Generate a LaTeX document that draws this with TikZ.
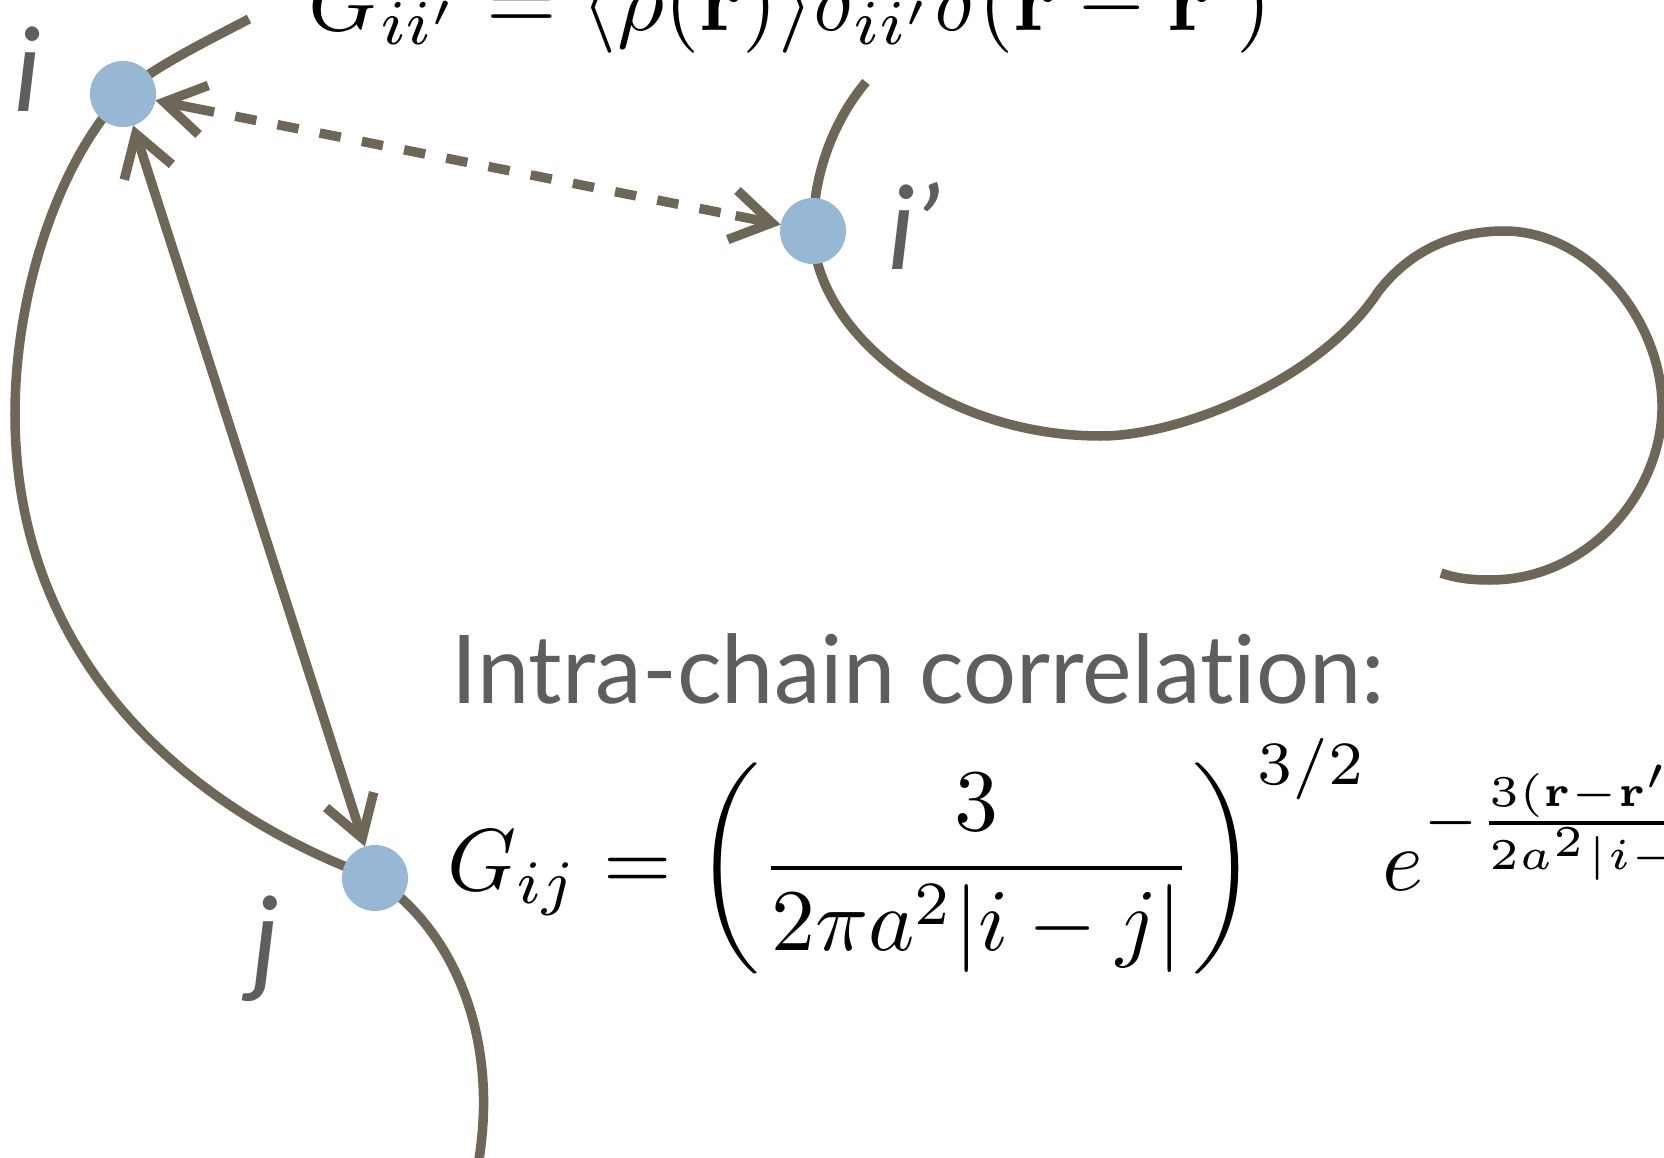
\documentclass[tikz,border=0pt]{standalone}
\usepackage[no-math]{fontspec}
\usepackage{graphicx}
\usetikzlibrary{arrows.meta}
\newfontfamily\lato[Ligatures={NoCommon,NoRequired,NoContextual}]{Lato}
\definecolor{chaincol}{HTML}{6E6758}
\definecolor{beadcol}{HTML}{97B8D4}
\definecolor{labelcol}{HTML}{5E5E5E}
\begin{document}
\begin{tikzpicture}[x=0.01cm,y=-0.01cm,
  chain/.style={draw=chaincol, line width=0.095cm},
  bead/.style={circle, fill=beadcol, minimum size=0.66cm, inner sep=0pt, outer sep=0pt},
  barb/.tip={Straight Barb[length=0.40cm,width=0.50cm,sharp]},
  corr/.style={draw=chaincol, line width=0.095cm},
  lbl/.style={text=labelcol, font={\lato\itshape\fontsize{33}{40}\selectfont}, inner sep=0pt, anchor=base west},
  formula/.style={anchor=base west, inner sep=0pt, text=black}]
\useasboundingbox (0,0) rectangle (1664,1158);
\clip (0,0) rectangle (1664,1158);
% bead positions
\coordinate (ci) at (123,94);
\coordinate (cip) at (813,231);
\coordinate (cj) at (375,878);
% chain 1
\coordinate (c1s) at (249,19);
\coordinate (cL) at (15,414);
\coordinate (c1e) at (478,1165);
\draw[chain] (c1s) .. controls (205,42) and (152,68) .. (ci)
  .. controls (60,160) and (15,290) .. (cL)
  .. controls (15,670) and (200,815) .. (cj)
  .. controls (455,930) and (500,1040) .. (c1e);
% chain 2
\coordinate (c2s) at (866,82);
\coordinate (c2a) at (1101,436);
\coordinate (c2b) at (1378,292);
\coordinate (c2c) at (1504,231);
\coordinate (c2d) at (1662,403);
\coordinate (c2f) at (1490,580);
\coordinate (c2e) at (1441,573);
\draw[chain] (c2s) .. controls (830,125) and (813,180) .. (cip)
  .. controls (814,330) and (940,436) .. (c2a)
  .. controls (1180,436) and (1320,380) .. (c2b)
  .. controls (1410,250) and (1455,231) .. (c2c)
  .. controls (1590,231) and (1660,320) .. (c2d)
  .. controls (1664,490) and (1590,580) .. (c2f)
  .. controls (1470,580) and (1455,578) .. (c2e);
% beads
\node[bead] (i) at (ci) {};
\node[bead] (ip) at (cip) {};
\node[bead] (j) at (cj) {};
% correlation arrows
\draw[corr, barb-barb] (i) -- (j);
\path (i) -- (ip) coordinate[pos=0.094] (d1) coordinate[pos=0.928] (d2);
\draw[corr, barb-] (i) -- (d1);
\draw[corr, -barb] (d2) -- (ip);
\draw[corr, dash pattern=on 0.215cm off 0.215cm, dash phase=0.215cm] (d1) -- (d2);
% labels
\node[lbl] (li) at (14,112) {i};
\node[lbl] (lj) at (252,980) {j};
\node[lbl] (lip) at (888,270) {i’};
% formulas
\node[formula] (f1) at (308,31) {\scalebox{2.585}{$G_{ii'} = \langle\rho(\mathbf{r})\rangle\delta_{ii'}\delta(\mathbf{r}-\mathbf{r}')$}};
\node[anchor=base west, inner sep=0pt, text=labelcol, font={\lato\fontsize{27}{32}\selectfont}] (title) at (451,703) {\scalebox{0.986}[1]{Intra-chain correlation:}};
\node[formula] (f2) at (447,890) {\scalebox{2.5}{$\displaystyle G_{ij} = \left(\frac{3}{2\pi a^2|i-j|}\right)^{3/2} e^{-\frac{3(\mathbf{r}-\mathbf{r}')^2}{2a^2|i-j|}}$}};
\end{tikzpicture}
\end{document}
